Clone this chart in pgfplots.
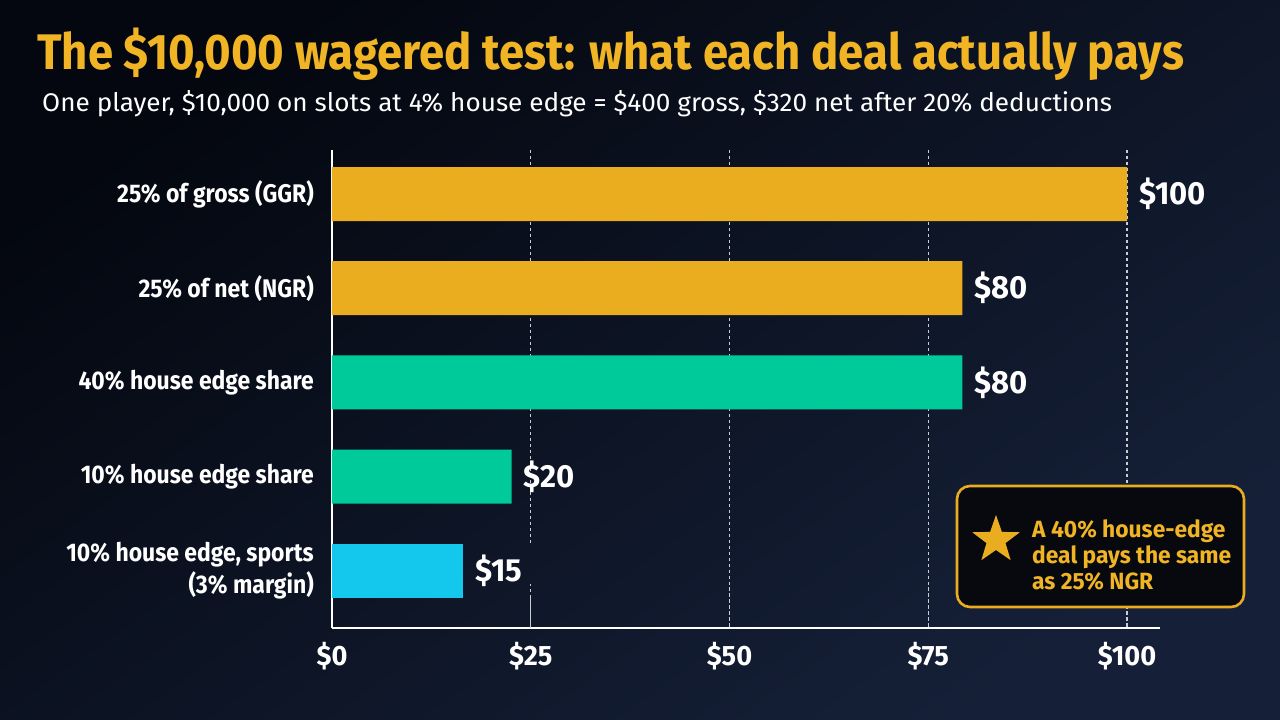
\documentclass[border=0pt]{standalone}
\usepackage{fontspec}
\setmainfont{Fira Sans}
\newfontfamily\titlefont{Fira Sans}[FakeStretch=0.91]
\newfontfamily\subfont{Fira Sans}[FakeStretch=1.025]
\newfontfamily\labfont{Fira Sans}[FakeStretch=0.9]
\newfontfamily\valfont{Fira Sans}[FakeStretch=0.97]
\usepackage{pgfplots}
\pgfplotsset{compat=1.18}
\usetikzlibrary{shapes.geometric}
\definecolor{bgtop}{HTML}{04070F}
\definecolor{bgbot}{HTML}{152038}
\definecolor{gold}{HTML}{E9AD1F}
\definecolor{titlegold}{HTML}{F0B424}
\definecolor{green}{HTML}{00C99A}
\definecolor{cyan}{HTML}{13C8EC}
\definecolor{gridc}{HTML}{C9CDD6}
\definecolor{boxfill}{HTML}{07090E}
\begin{document}
\begin{tikzpicture}[x=1pt,y=1pt]
\shade[top color=bgtop, bottom color=bgbot, shading angle=35] (0,0) rectangle (1280,720);
\node[anchor=base west, inner sep=0, text=titlegold, font=\titlefont\bfseries\fontsize{50}{58}\selectfont] at (37,650) {The \$10,000 wagered test: what each deal actually pays};
\node[anchor=base west, inner sep=0, text=white, font=\subfont\fontsize{25.5}{30}\selectfont] at (42,608) {One player, \$10,000 on slots at 4\% house edge = \$400 gross, \$320 net after 20\% deductions};
\begin{axis}[at={(332pt,92pt)}, anchor=south west, scale only axis,
  width=828pt, height=478pt,
  xmin=0, xmax=104.15, ymin=-0.605, ymax=4.467,
  xbar, bar width=54pt, bar shift=0pt,
  axis lines*=left, axis line style={white, line width=1.6pt},
  xtick={0,25,50,75,100}, xticklabels={\$0,\$25,\$50,\$75,\$100},
  ytick={0,1,2,3,4},
  yticklabels={{10\% house edge, sports\\(3\% margin)}, 10\% house edge share, 40\% house edge share, 25\% of net (NGR), 25\% of gross (GGR)},
  yticklabel style={align=right, text=white, inner sep=0pt, xshift=-18pt, font=\labfont\bfseries\fontsize{25.5}{32}\selectfont},
  xticklabel style={text=white, inner sep=0pt, yshift=-14pt, font=\valfont\bfseries\fontsize{28}{30}\selectfont},
  major tick length=0pt,
  nodes near coords, point meta=explicit symbolic,
  nodes near coords style={anchor=west, text=white, inner xsep=0pt, xshift=12pt, font=\valfont\bfseries\fontsize{32}{36}\selectfont},
  clip=false]
\draw[gridc, line width=1.1pt, dash pattern=on 3pt off 3pt] (axis cs:25,4.467) -- (axis cs:25,0.29);
\draw[gridc, line width=1.1pt, dash pattern=on 3pt off 3pt] (axis cs:25,-0.29) -- (axis cs:25,-0.605) -- ++(0,-13pt);
\foreach \v in {50,75,100} {
  \edef\temp{\noexpand\draw[gridc, line width=1.1pt, dash pattern=on 3pt off 3pt] (axis cs:\v,4.467) -- (axis cs:\v,-0.605) -- ++(0,-13pt);}
  \temp
}
\addplot[fill=gold, draw=none] coordinates {(100,4) [\$100] (79.3,3) [\$80]};
\addplot[fill=green, draw=none] coordinates {(79.3,2) [\$80] (22.6,1) [\$20]};
\addplot[fill=cyan, draw=none] coordinates {(16.5,0) [\$15]};
\end{axis}
\draw[gold, line width=2.6pt, rounded corners=13pt, fill=boxfill] (957,234) rectangle (1244,113);
\node[star, star points=5, star point ratio=2.5, fill=gold, draw=none, minimum size=50pt, inner sep=0pt] at (996,180) {};
\node[anchor=north west, align=left, inner sep=0pt, text=titlegold, font=\valfont\bfseries\fontsize{23.5}{26}\selectfont] at (1032,201) {A 40\% house-edge\\deal pays the same\\as 25\% NGR};
\pgfresetboundingbox
\useasboundingbox (0,0) rectangle (1280,720);
\end{tikzpicture}
\end{document}
